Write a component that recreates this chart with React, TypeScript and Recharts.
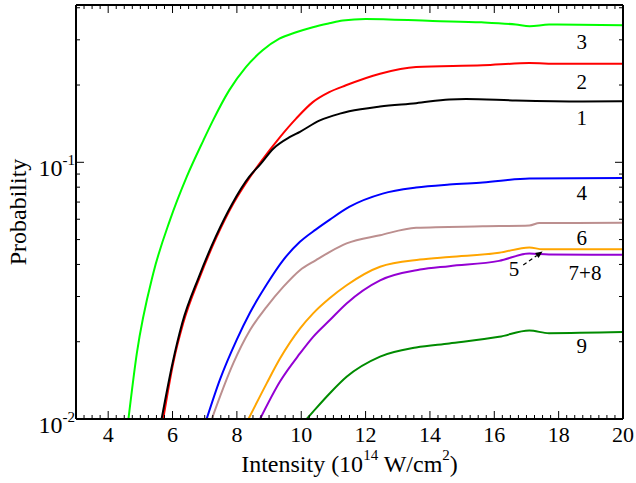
import React from 'react'
import { LineChart, Line, XAxis, YAxis, ReferenceDot, ReferenceLine } from 'recharts'

const FONT = '"Liberation Serif", "Times New Roman", Times, serif'

type Pt = [number, number]

// channel 1..9: [intensity (1e14 W/cm2), probability]
const curve1: Pt[] = [
  [5.66, 0.01], [6.0, 0.0165], [6.3, 0.0236], [6.82, 0.0358], [7.34, 0.0512], [7.86, 0.0691],
  [8.38, 0.0877], [8.72, 0.098], [9.13, 0.113], [9.65, 0.1255], [9.96, 0.1315], [10.58, 0.1457],
  [11.2, 0.1547], [11.49, 0.158], [12.45, 0.165], [13.57, 0.17], [14.6, 0.1758], [15.12, 0.1765],
  [16.67, 0.1742], [18.75, 0.1727], [20, 0.173],
]
const curve2: Pt[] = [
  [5.71, 0.01], [6.02, 0.0165], [6.33, 0.0236], [6.85, 0.0358], [7.37, 0.0512], [7.89, 0.0691],
  [8.41, 0.0877], [8.72, 0.0995], [9.34, 0.1254], [9.84, 0.148], [10.36, 0.1716], [10.87, 0.1877],
  [11.39, 0.1995], [12.45, 0.2213], [13.57, 0.235], [15.64, 0.2386], [17.09, 0.2435], [18, 0.242],
  [20, 0.242],
]
const curve3: Pt[] = [
  [4.63, 0.01], [4.89, 0.018], [5.4, 0.0369], [5.92, 0.0595], [6.44, 0.0877], [6.96, 0.1218],
  [7.25, 0.145], [7.76, 0.1906], [8.28, 0.235], [8.8, 0.273], [9.32, 0.303], [9.84, 0.321],
  [10.36, 0.336], [10.87, 0.348], [11.29, 0.357], [12.0, 0.362], [14.08, 0.355], [15.6, 0.351],
  [16.67, 0.344], [17.1, 0.339], [17.7, 0.344], [20, 0.342],
]
const curve4: Pt[] = [
  [7.06, 0.01], [7.47, 0.0142], [7.99, 0.0203], [8.41, 0.026], [8.93, 0.0335], [9.44, 0.0416],
  [9.96, 0.049], [10.46, 0.0548], [10.89, 0.0598], [11.49, 0.067], [12.53, 0.0755], [13.57, 0.0797],
  [14.6, 0.0819], [15.64, 0.0834], [17.09, 0.0864], [20, 0.0869],
]
const curve5: Pt[] = [
  [8.36, 0.01], [8.93, 0.0138], [9.34, 0.0172], [9.96, 0.0225], [10.37, 0.0258], [10.89, 0.0296],
  [11.41, 0.0332], [12.45, 0.0392], [13.69, 0.0418], [14.6, 0.0428], [16.15, 0.0444],
  [17.09, 0.0466], [17.5, 0.0458], [20, 0.0458],
]
const curve6: Pt[] = [
  [7.22, 0.01], [7.89, 0.0165], [8.41, 0.0222], [8.93, 0.0274], [9.44, 0.0327], [9.96, 0.038],
  [10.46, 0.0416], [10.89, 0.0448], [11.41, 0.0483], [12.45, 0.052], [13.57, 0.0556],
  [15.64, 0.0563], [17.09, 0.0567], [17.4, 0.058], [20, 0.0581],
]
const curve78: Pt[] = [
  [8.72, 0.01], [9.34, 0.014], [9.96, 0.018], [10.37, 0.0209], [10.89, 0.0243], [11.41, 0.0282],
  [12.45, 0.0347], [13.69, 0.0382], [14.6, 0.0394], [16.15, 0.0413], [17.09, 0.0441],
  [17.7, 0.0437], [20, 0.0436],
]
const curve9: Pt[] = [
  [10.17, 0.01], [10.46, 0.011], [10.89, 0.0126], [11.41, 0.0146], [12.45, 0.0175], [13.57, 0.019],
  [14.6, 0.0197], [16.15, 0.0209], [17.09, 0.0221], [17.7, 0.0216], [20, 0.0218],
]

const series = [
  { id: '3', color: '#00ff00', points: curve3 },
  { id: '2', color: '#ff0000', points: curve2 },
  { id: '1', color: '#000000', points: curve1 },
  { id: '4', color: '#0000ff', points: curve4 },
  { id: '6', color: '#bc8f8f', points: curve6 },
  { id: '5', color: '#ffa500', points: curve5 },
  { id: '7+8', color: '#9400d3', points: curve78 },
  { id: '9', color: '#008b00', points: curve9 },
]

// curve labels, in data coordinates
const curveLabels = [
  { text: '3', x: 18.72, y: 0.294 },
  { text: '2', x: 18.72, y: 0.2053 },
  { text: '1', x: 18.72, y: 0.149 },
  { text: '4', x: 18.72, y: 0.076 },
  { text: '6', x: 18.72, y: 0.0508 },
  { text: '5', x: 16.61, y: 0.0384 },
  { text: '7+8', x: 18.82, y: 0.037 },
  { text: '9', x: 18.72, y: 0.0193 },
]
const arrow5 = [{ x: 16.9, y: 0.0398 }, { x: 17.5, y: 0.0449 }]

const xDomain = [3, 20]
const xMajor = [4, 6, 8, 10, 12, 14, 16, 18, 20]
const xMinorStep = 0.25
const xTicks: number[] = []
for (let v = xDomain[0] + xMinorStep; v <= xDomain[1] + 1e-9; v += xMinorStep) xTicks.push(Math.round(v * 100) / 100)

const yDomain = [0.01, 0.41]
const yTicks = [0.01, 0.02, 0.03, 0.04, 0.05, 0.06, 0.07, 0.08, 0.09, 0.1, 0.2, 0.3, 0.4]
const yMajor = [0.01, 0.1]
const yMajorExp = ['-2', '-1']

const toData = (pts: Pt[]) => pts.map(([x, y]) => ({ x, y }))

const XTick = (props: any) => {
  const { x, y, payload, side } = props
  const v = payload.value
  const major = xMajor.includes(v)
  const len = major ? 8 : 4
  const dir = side === 'top' ? 1 : -1
  return (
    <g>
      <line x1={x} y1={y} x2={x} y2={y + dir * len} stroke="#000" strokeWidth={1} />
      {major && side === 'bottom' && (
        <text x={x} y={y + 23} textAnchor="middle" fontSize={22} fontFamily={FONT} fill="#000">
          {v}
        </text>
      )}
    </g>
  )
}

const YTick = (props: any) => {
  const { x, y, payload, side } = props
  const v = payload.value
  const mi = yMajor.findIndex((m) => Math.abs(m - v) < 1e-9)
  const major = mi >= 0
  const len = major ? 8 : 4
  const dir = side === 'right' ? -1 : 1
  return (
    <g>
      <line x1={x} y1={y} x2={x + dir * len} y2={y} stroke="#000" strokeWidth={1} />
      {major && side === 'left' && (
        <text x={x - 1} y={y + 13.5} textAnchor="end" fontFamily={FONT} fill="#000">
          <tspan fontSize={24}>10</tspan>
          <tspan fontSize={15} dy={-11}>{yMajorExp[mi]}</tspan>
        </text>
      )}
    </g>
  )
}

const Arrow = (p: any) => {
  const { x1, y1, x2, y2 } = p
  const a = Math.atan2(y2 - y1, x2 - x1)
  const L = 7
  const W = 3
  const bx = x2 - L * Math.cos(a)
  const by = y2 - L * Math.sin(a)
  const pts = `${x2},${y2} ${bx - W * Math.sin(a)},${by + W * Math.cos(a)} ${bx + W * Math.sin(a)},${by - W * Math.cos(a)}`
  return (
    <g>
      <line x1={x1} y1={y1} x2={bx} y2={by} stroke="#000" strokeWidth={1.2} strokeDasharray="4 3" />
      <polygon points={pts} fill="#000" />
    </g>
  )
}

const axisLine = { stroke: '#000', strokeWidth: 2 }

export default function App() {
  return (
    <div style={{ position: 'absolute', left: 0, top: 0, background: '#fff' }}>
      <LineChart width={636} height={483} margin={{ top: 4, right: 12, bottom: 63, left: 75 }}>
        <XAxis
          xAxisId="b"
          dataKey="x"
          type="number"
          domain={xDomain}
          allowDataOverflow
          ticks={xTicks}
          interval={0}
          height={1}
          tickSize={0}
          tickMargin={0}
          tickLine={false}
          axisLine={axisLine}
          tick={(p: any) => <XTick {...p} side="bottom" />}
          label={{
            content: (p: any) => {
              const vb = p.viewBox
              return (
                <text x={vb.x + vb.width / 2} y={vb.y + 53} textAnchor="middle" fontFamily={FONT} fontSize={24} fill="#000">
                  Intensity (10
                  <tspan fontSize={15} dy={-12}>14</tspan>
                  <tspan dy={12}> W/cm</tspan>
                  <tspan fontSize={15} dy={-12}>2</tspan>
                  <tspan dy={12}>)</tspan>
                </text>
              )
            },
          }}
        />
        <XAxis
          xAxisId="t"
          orientation="top"
          dataKey="x"
          type="number"
          domain={xDomain}
          allowDataOverflow
          ticks={xTicks}
          interval={0}
          height={1}
          tickSize={0}
          tickMargin={0}
          tickLine={false}
          axisLine={axisLine}
          tick={(p: any) => <XTick {...p} side="top" />}
        />
        <YAxis
          yAxisId="l"
          type="number"
          scale="log"
          domain={yDomain}
          allowDataOverflow
          ticks={yTicks}
          interval={0}
          width={1}
          tickSize={0}
          tickMargin={0}
          tickLine={false}
          axisLine={axisLine}
          tick={(p: any) => <YTick {...p} side="left" />}
          label={{
            content: (p: any) => {
              const vb = p.viewBox
              const cx = vb.x + vb.width - 58
              const cy = vb.y + vb.height / 2
              return (
                <text x={cx} y={cy} transform={`rotate(-90 ${cx} ${cy})`} textAnchor="middle" dominantBaseline="central" fontFamily={FONT} fontSize={24} fill="#000">
                  Probability
                </text>
              )
            },
          }}
        />
        <YAxis
          yAxisId="r"
          orientation="right"
          type="number"
          scale="log"
          domain={yDomain}
          allowDataOverflow
          ticks={yTicks}
          interval={0}
          width={1}
          tickSize={0}
          tickMargin={0}
          tickLine={false}
          axisLine={axisLine}
          tick={(p: any) => <YTick {...p} side="right" />}
        />
        {series.map((s) => (
          <Line
            key={s.id}
            xAxisId="b"
            yAxisId="l"
            data={toData(s.points)}
            dataKey="y"
            type="monotone"
            stroke={s.color}
            strokeWidth={2}
            dot={false}
            activeDot={false}
            isAnimationActive={false}
          />
        ))}
        {curveLabels.map((l) => (
          <ReferenceDot
            key={l.text}
            xAxisId="b"
            yAxisId="l"
            x={l.x}
            y={l.y}
            r={0}
            shape={(p: any) => (
              <text x={p.cx} y={p.cy} textAnchor="middle" dominantBaseline="central" fontFamily={FONT} fontSize={21} fill="#000">
                {l.text}
              </text>
            )}
          />
        ))}
        <ReferenceLine xAxisId="b" yAxisId="l" segment={arrow5} shape={Arrow} />
      </LineChart>
    </div>
  )
}
